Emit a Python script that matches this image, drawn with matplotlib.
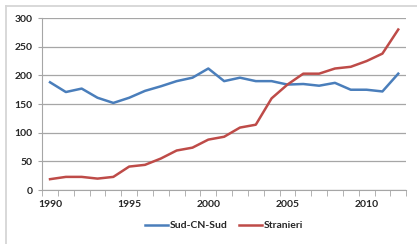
import matplotlib
matplotlib.use('Agg')
import matplotlib.pyplot as plt
from matplotlib.lines import Line2D
import numpy as np

# data
years = list(range(1990, 2013))
sud_cn_sud = [188, 171, 177, 161, 152, 161, 173, 181, 190, 196, 212, 190,
              196, 190, 190, 184, 185, 182, 187, 175, 175, 172, 203]
stranieri = [19, 23, 23, 20, 23, 41, 44, 55, 69, 74, 88, 93,
             109, 114, 160, 184, 203, 203, 212, 215, 225, 238, 280]
year_labels = [1990, 1995, 2000, 2005, 2010]

blueColor = '#4a7ebb'
redColor = '#be4b48'
gridColor = '#a6a6a6'
textColor = '#262626'

plt.rcParams['font.family'] = ['Lato', 'DejaVu Sans']

fig = plt.figure(figsize=(4.17, 2.44), dpi=100)
ax = fig.add_axes([0.101, 0.221, 0.873, 0.705])

# chart area frame (top and left edges are visible, the rest is cropped)
W, H = 417.0, 244.0
fig.lines.append(Line2D([6 / W, 1.0], [1 - 6 / H, 1 - 6 / H], transform=fig.transFigure,
                        color='#d6d6d6', lw=1.3))
fig.lines.append(Line2D([6 / W, 6 / W], [0.0, 1 - 6 / H], transform=fig.transFigure,
                        color='#d6d6d6', lw=1.3))

ax.plot(years, sud_cn_sud, color=blueColor, lw=1.8, label='Sud-CN-Sud')
ax.plot(years, stranieri, color=redColor, lw=1.8, label='Stranieri')

ax.set_xlim(years[0] - 0.5, years[-1] + 0.5)
ax.set_ylim(0, 300)
ax.set_yticks(np.arange(0, 301, 50))
ax.set_xticks(year_labels)
ax.set_xticks(np.arange(years[0] - 0.5, years[-1] + 1, 1), minor=True)
ax.tick_params(axis='x', which='major', length=0, pad=7.5, labelsize=7.5, labelcolor=textColor)
ax.tick_params(axis='x', which='minor', length=4, color=gridColor, direction='out')
ax.tick_params(axis='y', length=3, color=gridColor, labelsize=7.5, pad=4, labelcolor=textColor)
for lbl in ax.get_xticklabels() + ax.get_yticklabels():
    lbl.set_fontweight('bold')

ax.grid(axis='y', color=gridColor, lw=0.9)
ax.set_axisbelow(True)
for side in ['top', 'right']:
    ax.spines[side].set_visible(False)
for side in ['left', 'bottom']:
    ax.spines[side].set_color(gridColor)

leg = ax.legend(loc='center', bbox_to_anchor=(0.5, -0.206), ncol=2, frameon=False,
                fontsize=7.5, handlelength=2.2, handletextpad=0.2, columnspacing=1.05)
for t in leg.get_texts():
    t.set_color(textColor)
    t.set_fontweight('bold')

fig.savefig('out.png', dpi=100)
